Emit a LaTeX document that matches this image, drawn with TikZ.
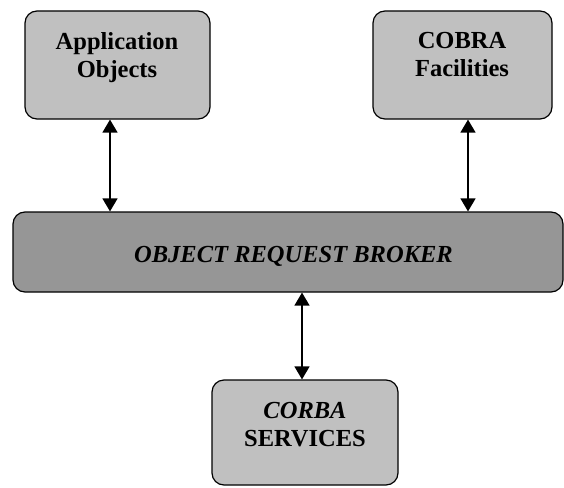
\documentclass[tikz,border=0pt]{standalone}
\usepackage{fontspec}
\setmainfont{Liberation Serif}
\usetikzlibrary{arrows.meta}
\definecolor{boxgray}{RGB}{192,192,192}
\definecolor{orbgray}{RGB}{150,150,150}
\begin{document}
\begin{tikzpicture}[x=1pt,y=-1pt,
box/.style={draw,line width=1.2pt,rounded corners=12pt,fill=boxgray,inner sep=0pt},
orbbox/.style={box,fill=orbgray},
label text/.style={align=center,inner sep=0pt,font=\fontsize{24.5}{28}\selectfont\bfseries},
link/.style={line width=1.4pt,{Triangle[length=13pt,width=15pt]}-{Triangle[length=13pt,width=15pt]}}]
	\useasboundingbox (0,0) rectangle (564,487);
	\node[box,minimum width=185pt,minimum height=108pt] (appobj) at (117.5,65) {};
	\node[box,minimum width=179pt,minimum height=108pt] (facil) at (462.5,65) {};
	\node[orbbox,minimum width=550pt,minimum height=80pt] (orb) at (288,252) {};
	\node[box,minimum width=186pt,minimum height=105pt] (serv) at (305,432.5) {};
	\node[label text] (appobjtext) at (117,57.5) {Application\\Objects};
	\node[label text] (faciltext) at (462,55) {COBRA\\Facilities};
	\node[label text,anchor=base] (orbtext) at (293.5,262) {\itshape OBJECT REQUEST BROKER};
	\node[label text] (servtext) at (305,425) {\itshape CORBA\\SERVICES};
	\draw[link] ([xshift=-7.5pt]appobj.south) -- ([xshift=-7.5pt]appobj.south |- orb.north);
	\draw[link] ([xshift=5.5pt]facil.south) -- ([xshift=5.5pt]facil.south |- orb.north);
	\draw[link] ([xshift=-3pt]serv.north) -- ([xshift=-3pt]serv.north |- orb.south);
\end{tikzpicture}
\end{document}
